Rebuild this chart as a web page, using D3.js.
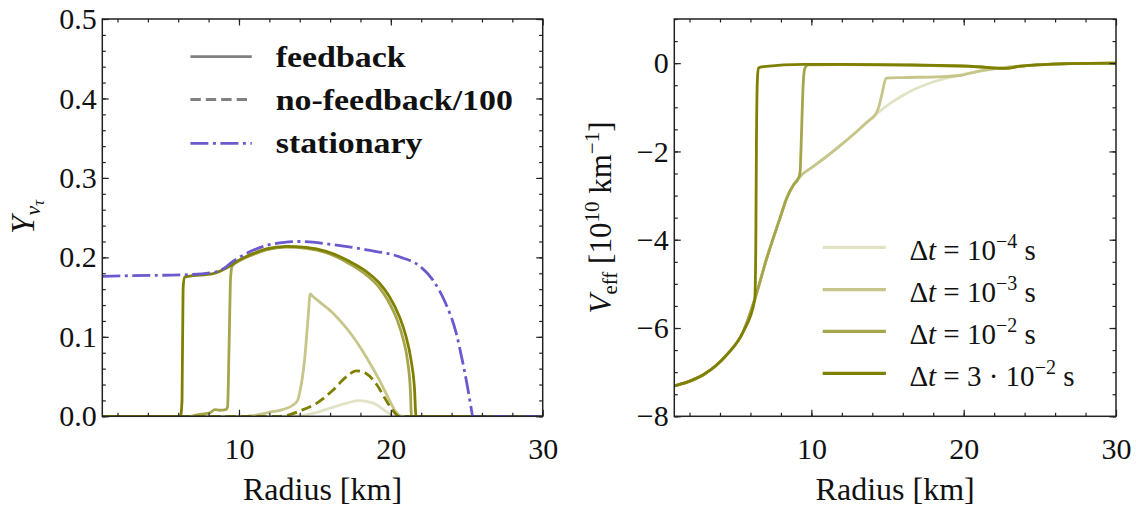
<!DOCTYPE html>
<html>
<head>
<meta charset="utf-8">
<script src="https://cdn.jsdelivr.net/npm/d3@7"></script>
<style>
  html, body { margin: 0; padding: 0; background: #ffffff; }
  svg { display: block; }
</style>
</head>
<body>
<svg id="chart" width="1136" height="507"></svg>
<script>
// ---------- Left panel: Y_nu_tau versus radius ----------
const stationaryR = [1, 3, 6.3, 8.3, 9.0, 9.6, 10.5, 11.8, 13.0, 14.0, 16.2, 18.4, 20.6, 21.9, 22.75, 23.6, 24.3, 24.7, 25.05, 25.27, 25.4, 30];
const stationaryY = [0.176, 0.177, 0.178, 0.181, 0.186, 0.195, 0.205, 0.215, 0.219, 0.220, 0.216, 0.2095, 0.2005, 0.189, 0.172, 0.1425, 0.105, 0.071, 0.037, 0.0125, 0, 0];

const feedbackR_1e4 = [1, 13.5, 15.08, 16.18, 17.1, 17.82, 18.8, 19.46, 19.9, 20.3, 30];
const feedbackY_1e4 = [0, 0, 0.0046, 0.0113, 0.0165, 0.0197, 0.0168, 0.0092, 0.0034, 0, 0];

const feedbackR_1e3 = [1, 10.5, 12.12, 12.88, 13.54, 13.86, 13.99, 14.32, 14.54, 14.69, 14.86, 16.18, 16.9, 17.5, 18.37, 19.24, 19.9, 20.34, 20.7, 30];
const feedbackY_1e3 = [0, 0, 0.0055, 0.0084, 0.0139, 0.02, 0.029, 0.071, 0.121, 0.154, 0.151, 0.130, 0.115, 0.1004, 0.075, 0.0458, 0.0206, 0.0055, 0, 0];

const feedbackR_1e2 = [1, 6.8, 7.43, 8.08, 8.41, 8.73, 9.13, 9.25, 9.35, 9.45, 9.55, 10.05, 10.92, 11.8, 13.11, 14.43, 15.74, 17.27, 18.37, 19.24, 19.8, 20.4, 20.8, 21.1, 21.28, 21.36, 30];
const feedbackY_1e2 = [0, 0, 0.0025, 0.0042, 0.0084, 0.0076, 0.0084, 0.012, 0.09, 0.175, 0.189, 0.196, 0.2035, 0.2095, 0.2128, 0.2112, 0.2058, 0.192, 0.178, 0.162, 0.146, 0.122, 0.098, 0.07, 0.035, 0, 0];

const feedbackR_3e2 = [1, 6.15, 6.25, 6.32, 6.42, 6.6, 8.29, 9.17, 10.05, 10.92, 11.8, 13.11, 14.43, 15.74, 17.27, 18.37, 19.24, 19.9, 20.56, 21.0, 21.33, 21.55, 21.66, 30];
const feedbackY_3e2 = [0, 0, 0.02, 0.16, 0.175, 0.176, 0.1795, 0.1866, 0.197, 0.2047, 0.2106, 0.2139, 0.2126, 0.2076, 0.195, 0.1824, 0.1677, 0.1508, 0.1256, 0.1004, 0.071, 0.0373, 0, 0];

const noFeedbackR = [1, 12.5, 13.1, 14.0, 15.08, 16.18, 17.06, 17.72, 18.37, 19.03, 19.68, 20.12, 20.56, 30];
const noFeedbackY = [0, 0, 0.001, 0.0067, 0.016, 0.0328, 0.0496, 0.0572, 0.0538, 0.041, 0.0204, 0.0076, 0, 0];

// ---------- Right panel: V_eff versus radius ----------
const veffR_1e4 = [1, 1.8, 2.91, 4.44, 5.53, 6.30, 7.07, 7.94, 8.38, 8.82, 9.37, 10.13, 11.67, 12.98, 14.07, 15.17, 16.48, 17.8, 19.33, 20.86, 22.61, 24.8, 26.99, 30];
const veffV_1e4 = [-7.31, -7.23, -7.06, -6.61, -6.08, -5.33, -4.42, -3.51, -3.06, -2.76, -2.53, -2.34, -1.93, -1.55, -1.21, -0.91, -0.64, -0.45, -0.30, -0.19, -0.10, -0.04, -0.01, 0];

const veffR_1e3 = [1, 1.8, 2.91, 4.44, 5.53, 6.30, 7.07, 7.94, 8.38, 8.82, 9.37, 10.13, 11.67, 12.98, 13.7, 14.19, 14.4, 14.62, 14.91, 16.05, 18.24, 19.77, 20.86, 22.61, 24.8, 26.99, 30];
const veffV_1e3 = [-7.31, -7.23, -7.06, -6.61, -6.08, -5.33, -4.42, -3.51, -3.06, -2.76, -2.53, -2.34, -1.93, -1.55, -1.32, -1.17, -1.02, -0.72, -0.34, -0.326, -0.31, -0.28, -0.19, -0.10, -0.04, -0.01, 0];

const veffR_1e2 = [1, 1.8, 2.91, 4.44, 5.53, 6.30, 7.07, 7.94, 8.38, 8.82, 9.15, 9.26, 9.32, 9.39, 9.47, 9.58, 9.8, 12, 16, 20.5, 22.6, 23.6, 24.8, 26.99, 30];
const veffV_1e2 = [-7.31, -7.23, -7.06, -6.61, -6.08, -5.33, -4.42, -3.51, -3.06, -2.76, -2.61, -2.46, -1.93, -1.17, -0.42, -0.11, -0.04, -0.035, -0.045, -0.075, -0.12, -0.075, -0.04, -0.01, 0];

const veffR_3e2 = [1, 1.8, 2.91, 4.44, 5.53, 6.28, 6.35, 6.39, 6.45, 6.52, 6.85, 9.5, 12, 16.27, 20.65, 22.84, 23.6, 24.8, 26.99, 30];
const veffV_3e2 = [-7.31, -7.23, -7.06, -6.61, -6.08, -5.36, -4.19, -1.93, -0.42, -0.11, -0.08, -0.03, -0.03, -0.04, -0.076, -0.12, -0.075, -0.04, -0.01, 0];

// ---------- Ticks and labels ----------
const radiusMajor = [10, 20, 30];
const radiusMinor = d3.range(2, 30, 2);
const yMajorLeft = [0, 0.1, 0.2, 0.3, 0.4, 0.5];
const yMinorLeft = d3.range(0, 0.5001, 0.02);
const vMajorRight = [-8, -6, -4, -2, 0];
const vMinorRight = d3.range(-8, 1.0001, 0.5);

const dtLabels = [
  { pre: "10", exp: "\u22124" },
  { pre: "10", exp: "\u22123" },
  { pre: "10", exp: "\u22122" },
  { pre: "3 \u00b7 10", exp: "\u22122" }
];
const leftLegend = ["feedback", "no-feedback/100", "stationary"];

// ---------- Styles ----------
const FONT = "'Liberation Serif', 'DejaVu Serif', serif";
const olive = ["#e2e2c5", "#c6c68b", "#a5a54c", "#808000"];
const slate = "#6a5acd";
const legendGray = "#808080";
const LW = 2.8;
const DASHED = "10.4,5";
const DASHDOT = "18,4.5,3,4.5";

const svg = d3.select("#chart");

function zip(xs, ys) { return xs.map((x, i) => [x, ys[i]]); }

function serif(sel, size) {
  return sel.style("font-family", FONT).style("font-size", size + "px").style("fill", "#111");
}

function panel(x0, x1, y0, y1, yDomain, yMajor, yMinor, yFmt) {
  const g = svg.append("g");
  const x = d3.scaleLinear().domain([1, 30]).range([x0, x1]);
  const y = d3.scaleLinear().domain(yDomain).range([y1, y0]);

  const clipId = "clip" + Math.round(x0);
  svg.append("clipPath").attr("id", clipId)
    .append("rect").attr("x", x0).attr("y", y0).attr("width", x1 - x0).attr("height", y1 - y0);

  const plot = g.append("g").attr("clip-path", `url(#${clipId})`);

  const tickStyle = sel => {
    sel.select(".domain").remove();
    sel.selectAll("line").attr("stroke", "#222").attr("stroke-width", 1.2);
  };

  // minor ticks on all four sides
  g.append("g").attr("transform", `translate(0,${y1})`)
    .call(d3.axisBottom(x).tickValues(radiusMinor).tickSize(-3.5).tickFormat(""))
    .call(tickStyle);
  g.append("g").attr("transform", `translate(0,${y0})`)
    .call(d3.axisTop(x).tickValues(radiusMinor).tickSize(-3.5).tickFormat(""))
    .call(tickStyle);
  g.append("g").attr("transform", `translate(${x0},0)`)
    .call(d3.axisLeft(y).tickValues(yMinor).tickSize(-3.5).tickFormat(""))
    .call(tickStyle);
  g.append("g").attr("transform", `translate(${x1},0)`)
    .call(d3.axisRight(y).tickValues(yMinor).tickSize(-3.5).tickFormat(""))
    .call(tickStyle);

  // major ticks
  const bx = g.append("g").attr("transform", `translate(0,${y1})`)
    .call(d3.axisBottom(x).tickValues(radiusMajor).tickSize(-6.5).tickFormat(d3.format("d")))
    .call(tickStyle);
  bx.selectAll("text").attr("y", 42.7).attr("dy", null).call(serif, 30);
  g.append("g").attr("transform", `translate(0,${y0})`)
    .call(d3.axisTop(x).tickValues(radiusMajor).tickSize(-6.5).tickFormat(""))
    .call(tickStyle);
  const ly = g.append("g").attr("transform", `translate(${x0},0)`)
    .call(d3.axisLeft(y).tickValues(yMajor).tickSize(-6.5).tickPadding(5.6).tickFormat(yFmt))
    .call(tickStyle);
  ly.selectAll("text").call(serif, 30);
  g.append("g").attr("transform", `translate(${x1},0)`)
    .call(d3.axisRight(y).tickValues(yMajor).tickSize(-6.5).tickFormat(""))
    .call(tickStyle);

  // frame
  g.append("rect").attr("x", x0).attr("y", y0).attr("width", x1 - x0).attr("height", y1 - y0)
    .attr("fill", "none").attr("stroke", "#222").attr("stroke-width", 1.5);

  // x axis title
  g.append("text").attr("x", (x0 + x1) / 2).attr("y", 500)
    .attr("text-anchor", "middle").call(serif, 32).text("Radius [km]");

  return { g, plot, x, y };
}

function drawLine(p, xs, ys, color, dash) {
  const line = d3.line().x(d => p.x(d[0])).y(d => p.y(d[1])).curve(d3.curveMonotoneX);
  p.plot.append("path").datum(zip(xs, ys))
    .attr("d", line).attr("fill", "none")
    .attr("stroke", color).attr("stroke-width", LW)
    .attr("stroke-linejoin", "round")
    .attr("stroke-dasharray", dash || null);
}

// ---------- Left panel ----------
const L = panel(102.3, 542.7, 19, 416.3, [0, 0.5], yMajorLeft, yMinorLeft, d3.format(".1f"));
drawLine(L, feedbackR_1e4, feedbackY_1e4, olive[0]);
drawLine(L, feedbackR_1e3, feedbackY_1e3, olive[1]);
drawLine(L, feedbackR_1e2, feedbackY_1e2, olive[2]);
drawLine(L, feedbackR_3e2, feedbackY_3e2, olive[3]);
drawLine(L, noFeedbackR, noFeedbackY, olive[3], DASHED);
drawLine(L, stationaryR, stationaryY, slate, DASHDOT);

// left y title: Y_{nu_tau}
const yt = svg.append("text").attr("transform", "translate(34,217) rotate(-90)")
  .attr("text-anchor", "middle").call(serif, 33);
yt.append("tspan").style("font-style", "italic").text("Y");
yt.append("tspan").style("font-size", "22px").style("font-style", "italic").attr("dy", 6).text("\u03bd");
yt.append("tspan").style("font-size", "16px").style("font-style", "italic").attr("dy", 4).text("\u03c4");

// left legend
const legendStyles = [
  { color: legendGray, dash: null },
  { color: legendGray, dash: DASHED },
  { color: slate, dash: DASHDOT }
];
const legRowsL = [56.7, 99.5, 143.3];
leftLegend.forEach((label, i) => {
  svg.append("line").attr("x1", 190.4).attr("x2", 251.8)
    .attr("y1", legRowsL[i]).attr("y2", legRowsL[i])
    .attr("stroke", legendStyles[i].color).attr("stroke-width", LW)
    .attr("stroke-dasharray", legendStyles[i].dash);
  svg.append("text")
    .attr("transform", `translate(275.7,${legRowsL[i] + 10}) scale(1.13,1)`)
    .call(serif, 30).style("font-weight", "bold").text(label);
});

// ---------- Right panel ----------
const R = panel(674.3, 1116, 19, 416.3, [-8, 1], vMajorRight, vMinorRight, d3.format("d"));
drawLine(R, veffR_1e4, veffV_1e4, olive[0]);
drawLine(R, veffR_1e3, veffV_1e3, olive[1]);
drawLine(R, veffR_1e2, veffV_1e2, olive[2]);
drawLine(R, veffR_3e2, veffV_3e2, olive[3]);

// right y title: V_eff [10^10 km^-1]
const vt = svg.append("text").attr("transform", "translate(611,217.5) rotate(-90)")
  .attr("text-anchor", "middle").call(serif, 31);
vt.append("tspan").style("font-style", "italic").text("V");
vt.append("tspan").style("font-size", "21px").attr("dy", 6).text("eff");
vt.append("tspan").attr("dy", -6).text("\u00a0[10");
vt.append("tspan").style("font-size", "21px").attr("dy", -12).text("10");
vt.append("tspan").attr("dy", 12).text("\u00a0km");
vt.append("tspan").style("font-size", "21px").attr("dy", -12).text("\u22121");
vt.append("tspan").attr("dy", 12).text("]");

// right legend
const legRowsR = [247.3, 289.7, 331.3, 373.3];
dtLabels.forEach((d, i) => {
  svg.append("line").attr("x1", 822.7).attr("x2", 885.9)
    .attr("y1", legRowsR[i]).attr("y2", legRowsR[i])
    .attr("stroke", olive[i]).attr("stroke-width", 3.2);
  const t = svg.append("text").attr("x", 909.4).attr("y", legRowsR[i] + 12.7).call(serif, 29);
  t.append("tspan").text("\u0394");
  t.append("tspan").style("font-style", "italic").text("t");
  t.append("tspan").text(" = " + d.pre);
  t.append("tspan").style("font-size", "20px").attr("dy", -12).text(d.exp);
  t.append("tspan").attr("dy", 12).text(" s");
});
</script>
</body>
</html>
